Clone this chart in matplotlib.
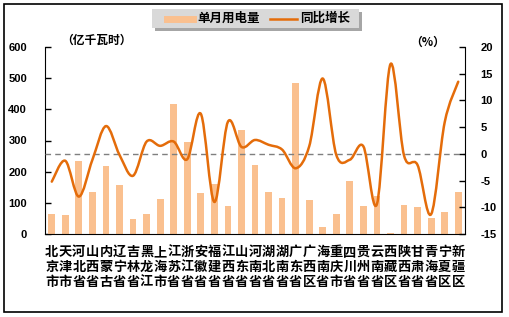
import matplotlib
matplotlib.use("Agg")
import matplotlib.pyplot as plt
from matplotlib.path import Path
from matplotlib.patches import PathPatch, Rectangle
from matplotlib.lines import Line2D
import numpy as np

plt.rcParams['font.family'] = ['Noto Sans CJK SC', 'DejaVu Sans']

provinces = ["北京市", "天津市", "河北省", "山西省", "内蒙古", "辽宁省", "吉林省", "黑龙江",
             "上海市", "江苏省", "浙江省", "安徽省", "福建省", "江西省", "山东省", "河南省",
             "湖北省", "湖南省", "广东省", "广西区", "海南省", "重庆市", "四川省", "贵州省",
             "云南省", "西藏区", "陕西省", "甘肃省", "青海省", "宁夏区", "新疆区"]
monthly_power = [64, 61, 235, 135, 219, 157, 48, 64, 112, 418, 296, 132, 161, 90, 334, 222,
                 135, 116, 485, 109, 22, 64, 170, 90, 122, 2, 93, 87, 51, 71, 135]
yoy_growth = [-5.2, -1.3, -8.0, -1.1, 5.2, -0.2, -4.1, 2.3, 1.5, 2.3, -1.0, 7.5, -9.0, 6.0, 1.3, 2.6,
              1.7, 0.8, -2.7, 1.4, 14.1, -0.2, -1.1, 1.4, -9.4, 16.8, -0.3, -2.1, -11.3, 5.9, 13.5]
left_ticks = [0, 100, 200, 300, 400, 500, 600]
right_ticks = [-15, -10, -5, 0, 5, 10, 15, 20]

W, H = 509, 317
fig = plt.figure(figsize=(W / 100, H / 100), dpi=100)
fig.patch.set_facecolor('white')

L, R, T, B = 45, 465, 47, 234
ax = fig.add_axes([L / W, 1 - B / H, (R - L) / W, (B - T) / H])
ax2 = ax.twinx()

BAR_C = '#FAC08F'
LINE_C = '#E46C0A'
num_font = dict(family=['Liberation Sans', 'DejaVu Sans'], weight='bold', size=8)

x = np.arange(len(provinces))
ax.bar(x, monthly_power, width=0.5, color=BAR_C, zorder=2)
ax.set_xlim(-0.5, len(provinces) - 0.5)
ax.set_ylim(0, 600)
ax.set_yticks(left_ticks)
ax.set_yticklabels([str(v) for v in left_ticks], **num_font)
ax.tick_params(axis='y', direction='in', length=4, pad=13, width=1)
ax.set_xticks(x)
ax.set_xticklabels(["\n".join(p) for p in provinces], family=['Noto Sans CJK SC'],
                   weight='bold', size=9.5, linespacing=1.08)
ax.tick_params(axis='x', length=0, pad=8)
ax.spines['top'].set_visible(False)
ax.spines['right'].set_visible(False)
ax.set_facecolor('none')

# smoothed line (Excel-style Bezier through data points)
ax2.set_ylim(-15, 20)
ax2.set_yticks(right_ticks)
ax2.set_yticklabels([str(v) for v in right_ticks], **num_font)
ax2.tick_params(axis='y', direction='in', length=4, pad=11, width=1)
ax2.spines['top'].set_visible(False)
ax2.spines['left'].set_visible(False)
ax2.spines['bottom'].set_visible(False)
ax2.axhline(0, color='#7F7F7F', lw=1, ls=(0, (4, 3)), zorder=1)

pts = np.column_stack([x, yoy_growth]).astype(float)
n = len(pts)
verts = [tuple(pts[0])]
codes = [Path.MOVETO]
for i in range(n - 1):
    p0 = pts[i - 1] if i > 0 else pts[i]
    p1 = pts[i]
    p2 = pts[i + 1]
    p3 = pts[i + 2] if i + 2 < n else pts[i + 1]
    c1 = p1 + (p2 - p0) / 6.0
    c2 = p2 - (p3 - p1) / 6.0
    verts += [tuple(c1), tuple(c2), tuple(p2)]
    codes += [Path.CURVE4] * 3
ax2.add_patch(PathPatch(Path(verts, codes), fill=False, edgecolor=LINE_C, lw=1.8,
                        capstyle='round', joinstyle='round', zorder=3))

# unit labels
fig.text(96 / W, 1 - 40 / H, "（亿千瓦时）", ha='center', va='center', weight='bold', size=8.5)
fig.text(428 / W, 1 - 42 / H, "（%）", ha='center', va='center', weight='bold', size=8.5)

# legend box with shadow
lx0, lx1, ly0, ly1 = 152, 359, 9, 28
fig.patches.append(Rectangle((lx0 / W + 3 / W, 1 - (ly1 + 3) / H), (lx1 - lx0) / W, (ly1 - ly0) / H,
                             transform=fig.transFigure, facecolor='#A6A6A6', edgecolor='none', zorder=1))
fig.patches.append(Rectangle((lx0 / W, 1 - ly1 / H), (lx1 - lx0) / W, (ly1 - ly0) / H,
                             transform=fig.transFigure, facecolor='#D9D9D9', edgecolor='none', zorder=2))
ly = 1 - 18.5 / H
fig.lines.append(Line2D([167 / W, 193 / W], [ly, ly], transform=fig.transFigure,
                        color=BAR_C, lw=5, zorder=3))
fig.text(197 / W, ly, "单月用电量", ha='left', va='center', weight='bold', size=9, zorder=4)
fig.lines.append(Line2D([270 / W, 297 / W], [ly, ly], transform=fig.transFigure,
                        color=LINE_C, lw=1.8, zorder=3))
fig.text(300 / W, ly, "同比增长", ha='left', va='center', weight='bold', size=9, zorder=4)

# outer frame
fig.patches.append(Rectangle((4 / W, 1 - 312 / H), 498 / W, 308 / H, transform=fig.transFigure,
                             facecolor='none', edgecolor='black', lw=1.2, zorder=5))

fig.savefig('out.png', dpi=100, facecolor='white')
